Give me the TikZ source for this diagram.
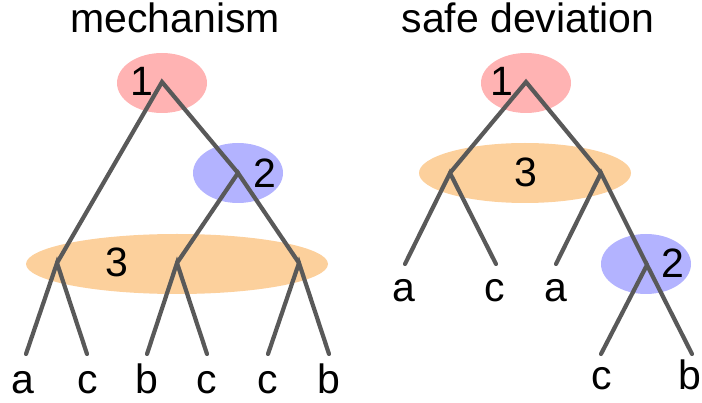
\documentclass[tikz,border=0pt]{standalone}
\usepackage{fontspec}
\setmainfont{Liberation Sans}
\definecolor{pl1}{HTML}{FFB3B3}
\definecolor{pl2}{HTML}{B3B3FF}
\definecolor{pl3}{HTML}{FCD09C}
\definecolor{edgegray}{HTML}{595959}
\tikzset{
  branch/.style={draw=edgegray, line width=4.2pt, line cap=round, line join=miter},
  lbl/.style={anchor=base, inner sep=0pt, font=\fontsize{41}{49}\selectfont},
}
\begin{document}
\begin{tikzpicture}[x=1pt,y=-1pt]
\useasboundingbox (0,0) rectangle (702,403);
% titles
\node[lbl] (tmech) at (175,33) {mechanism};
\node[lbl] (tdev) at (528,33) {safe deviation};
% mechanism: player sets
\fill[pl1] (162,83) ellipse (45pt and 30pt);
\fill[pl2] (238,173) ellipse (45pt and 30pt);
\fill[pl3] (177,264) ellipse (151pt and 30pt);
\coordinate (m1) at (162,82);
\coordinate (m2) at (238,173);
\coordinate (m3a) at (57,263);
\coordinate (m3b) at (177,263);
\coordinate (m3c) at (299,263);
\foreach \x [count=\i] in {26,87,147,207,268,329}
  \coordinate (ml\i) at (\x,354);
\draw[branch] (m3a) -- (m1) -- (m2);
\draw[branch] (m3b) -- (m2) -- (m3c);
\draw[branch] (ml1) -- (m3a) -- (ml2);
\draw[branch] (ml3) -- (m3b) -- (ml4);
\draw[branch] (ml5) -- (m3c) -- (ml6);
\node[lbl] (mn1) at (142,96) {1};
\node[lbl] (mn2) at (265,188) {2};
\node[lbl] (mn3) at (117,277) {3};
\foreach \x/\t [count=\i] in {23/a,88/c,147/b,207/c,268/c,329/b}
  \node[lbl] (mt\i) at (\x,394) {\t};
% safe deviation
\fill[pl1] (526,83) ellipse (45pt and 30pt);
\fill[pl3] (525,173) ellipse (106pt and 30pt);
\fill[pl2] (646,264) ellipse (45pt and 30pt);
\coordinate (d1) at (526,82);
\coordinate (d3a) at (450,173);
\coordinate (d3b) at (601,173);
\coordinate (d2) at (647,265);
\coordinate (dl1) at (405,264);
\coordinate (dl2) at (496,264);
\coordinate (dl3) at (556,264);
\coordinate (dl4) at (601,354);
\coordinate (dl5) at (692,354);
\draw[branch] (d3a) -- (d1) -- (d3b);
\draw[branch] (dl1) -- (d3a) -- (dl2);
\draw[branch] (dl3) -- (d3b) -- (d2);
\draw[branch] (dl4) -- (d2) -- (dl5);
\node[lbl] (dn1) at (502,96) {1};
\node[lbl] (dn3) at (526,187) {3};
\node[lbl] (dn2) at (673,278) {2};
\node[lbl] (dt1) at (404,302) {a};
\node[lbl] (dt2) at (495,302) {c};
\node[lbl] (dt3) at (556,302) {a};
\node[lbl] (dt4) at (602,390) {c};
\node[lbl] (dt5) at (690,390) {b};
\end{tikzpicture}
\end{document}
